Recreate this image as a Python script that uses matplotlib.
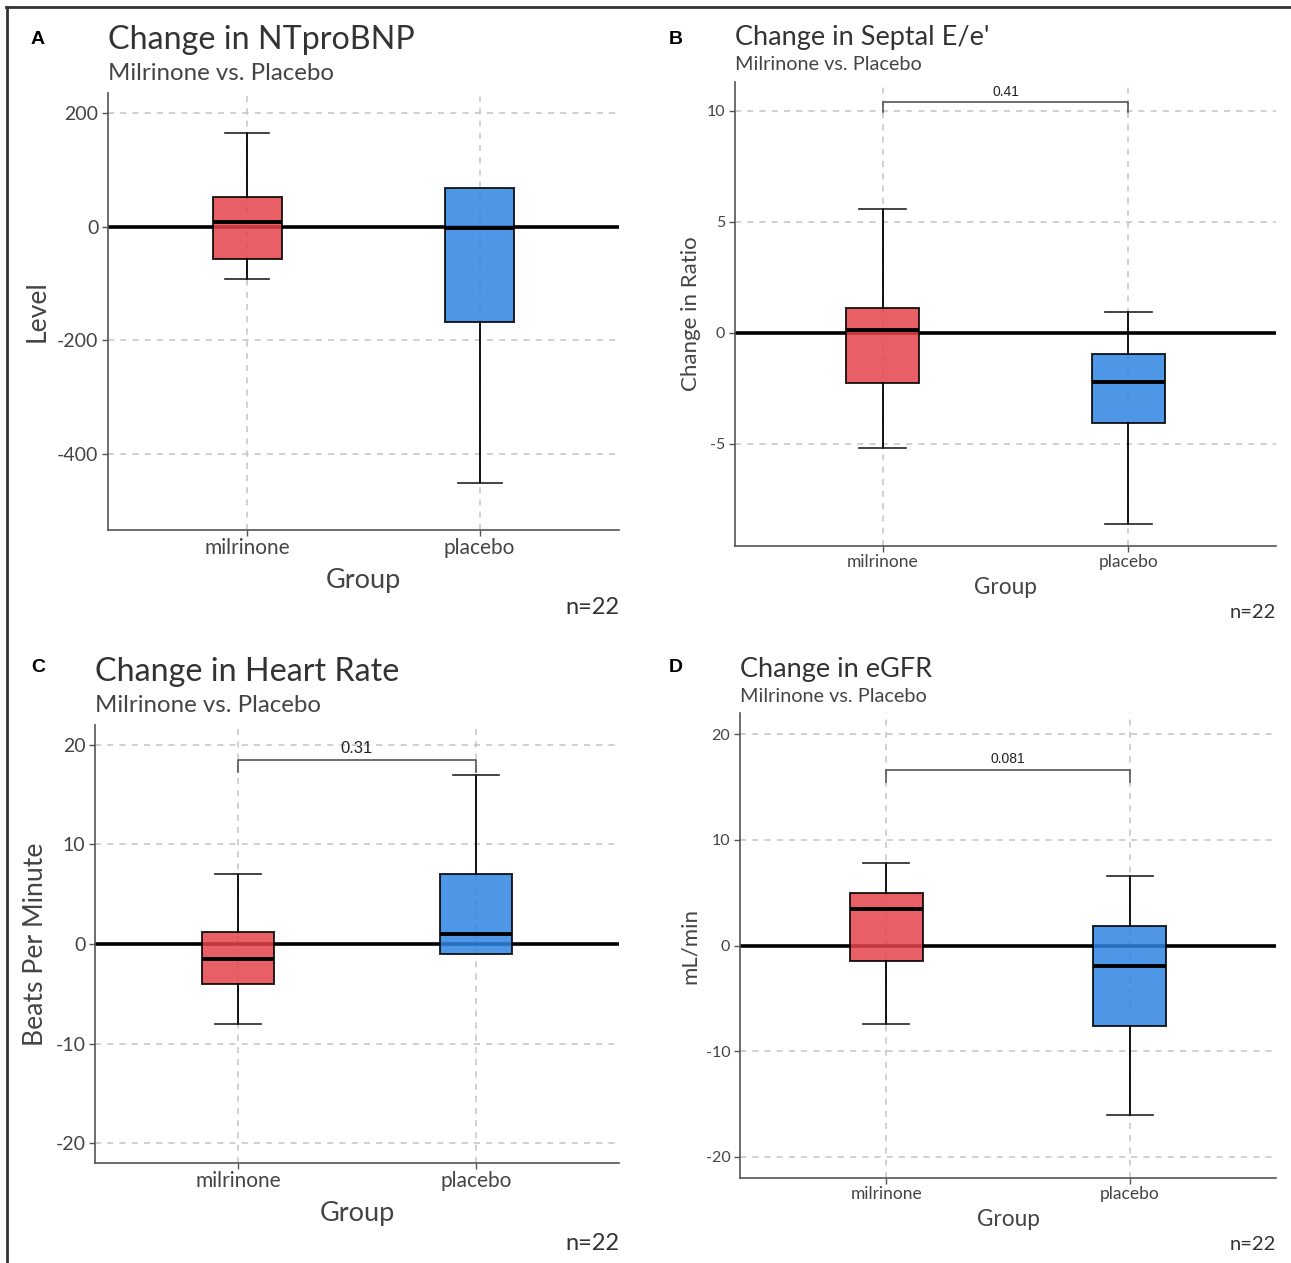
import matplotlib.pyplot as plt
from matplotlib.lines import Line2D

W, H = 1291, 1263
plt.rcParams['font.family'] = ['Lato', 'DejaVu Sans']

groups = ['milrinone', 'placebo']
# whislo, q1, median, q3, whishi
ntprobnp_mil = [-92, -56, 8, 52, 165]
ntprobnp_pla = [-451, -167, -1, 69, 69]
septal_mil = [-5.2, -2.25, 0.13, 1.12, 5.57]
septal_pla = [-8.6, -4.04, -2.2, -0.94, 0.94]
hr_mil = [-8, -4, -1.5, 1.2, 7]
hr_pla = [-1, -1, 1, 7, 17]
egfr_mil = [-7.45, -1.5, 3.5, 5.0, 7.8]
egfr_pla = [-16, -7.6, -1.9, 1.8, 6.6]

p_septal, p_hr, p_egfr = '0.41', '0.31', '0.081'

RED = '#E4444A'
BLUE = '#2F85E2'

fig = plt.figure(figsize=(W / 100, H / 100), dpi=100)


def px(x, y):
    return x / W, 1 - y / H


def make_axes(l, t, r, b):
    x0, y1 = px(l, t)
    x1, y0 = px(r, b)
    return fig.add_axes([x0, y0, x1 - x0, y1 - y0])


def panel(ax, mil, pla, ylim, yticks, s, ylab):
    stats = []
    for name, v in zip(groups, [mil, pla]):
        stats.append(dict(label=name, whislo=v[0], q1=v[1], med=v[2], q3=v[3], whishi=v[4]))
    ax.axhline(0, color='black', lw=2.6, zorder=1.5)
    bp = ax.bxp(stats, positions=[1, 2], widths=0.3, capwidths=0.19, showfliers=False,
                patch_artist=True,
                boxprops=dict(edgecolor='black', linewidth=1.4),
                medianprops=dict(color='black', linewidth=2.8),
                whiskerprops=dict(color='black', linewidth=1.3),
                capprops=dict(color='#222222', linewidth=1.2))
    for patch, c in zip(bp['boxes'], [RED, BLUE]):
        patch.set_facecolor(c)
        patch.set_alpha(0.85)
        patch.set_edgecolor('black')
        patch.set_zorder(2)
    ax.set_xlim(0.4, 2.6)
    ax.set_ylim(*ylim)
    ax.set_yticks(yticks)
    ax.set_yticklabels([str(t) for t in yticks])
    ax.grid(True, color='#c4c4c4', linestyle=(0, (4, 4)), linewidth=1.1, zorder=0)
    ax.set_axisbelow(True)
    for sp in ['top', 'right']:
        ax.spines[sp].set_visible(False)
    for sp in ['left', 'bottom']:
        ax.spines[sp].set_color('#555555')
        ax.spines[sp].set_linewidth(1.2)
    ax.tick_params(colors='#555555', length=4, width=1, labelsize=s['tick'], labelcolor='#444444', pad=3)
    ax.tick_params(axis='x', labelsize=s['cat'], pad=2)
    ax.set_xlabel('Group', fontsize=s['xlab'], color='#444444', labelpad=s['xpad'])
    ax.set_ylabel(ylab, fontsize=s['ylab'], color='#444444', labelpad=s['ypad'])


def bracket(ax, y, tip, label, fs):
    ax.plot([1, 1, 2, 2], [y - tip, y, y, y - tip], color='#555555', lw=1.2, zorder=3)
    ax.text(1.5, y + tip * 0.35, label, ha='center', va='bottom', fontsize=fs,
            family=['Liberation Sans'], color='#222222')


big = dict(tick=14, cat=15, xlab=19.5, ylab=19.2, title=23.2, sub=17.3, n=17, xpad=7, ypad=5)
small = dict(tick=11.5, cat=12.5, xlab=16.3, ylab=16, title=19.5, sub=14.3, n=14.5, xpad=5, ypad=4)

axA = make_axes(108, 93, 619, 530)
panel(axA, ntprobnp_mil, ntprobnp_pla, (-534, 236), [-400, -200, 0, 200], big, 'Level')

axB = make_axes(735, 82, 1276, 546)
panel(axB, septal_mil, septal_pla, (-9.6, 11.3), [-5, 0, 5, 10], small, 'Change in Ratio')
bracket(axB, 10.38, 0.45, p_septal, 10)

axC = make_axes(95, 725, 619, 1163)
panel(axC, hr_mil, hr_pla, (-22, 22), [-20, -10, 0, 10, 20], big, 'Beats Per Minute')
bracket(axC, 18.5, 1.2, p_hr, 12)

axD = make_axes(740, 713, 1276, 1178)
panel(axD, egfr_mil, egfr_pla, (-22, 22), [-20, -10, 0, 10, 20], small, 'mL/min')
bracket(axD, 16.6, 1.1, p_egfr, 10)

# titles, subtitles, panel letters, n labels
heads = [
    ('A', 38, 39, 108, 40, 74, 'Change in NTproBNP', big, 619, 608),
    ('B', 676, 39, 735, 38, 65, "Change in Septal E/e'", small, 1276, 612),
    ('C', 38, 667, 95, 672, 706, 'Change in Heart Rate', big, 619, 1243),
    ('D', 676, 667, 740, 669, 697, 'Change in eGFR', small, 1276, 1245),
]
for letter, lx, ly, tx, ty, sy, title, s, nx, ny in heads:
    fig.text(*px(lx, ly), letter, fontsize=14, fontweight='bold', family=['Liberation Sans'],
             ha='center', va='center')
    fig.text(*px(tx, ty), title, fontsize=s['title'], color='#333333', ha='left', va='center')
    fig.text(*px(tx, sy), 'Milrinone vs. Placebo', fontsize=s['sub'], color='#444444',
             ha='left', va='center')
    fig.text(*px(nx, ny), 'n=22', fontsize=s['n'], color='#333333', ha='right', va='center')

# outer frame lines (top and left)
fig.add_artist(Line2D([6 / W, 1], [1 - 7 / H, 1 - 7 / H], color='#333333', lw=2))
fig.add_artist(Line2D([7 / W, 7 / W], [0, 1 - 7 / H], color='#333333', lw=2))

fig.savefig('out.png', dpi=100)
